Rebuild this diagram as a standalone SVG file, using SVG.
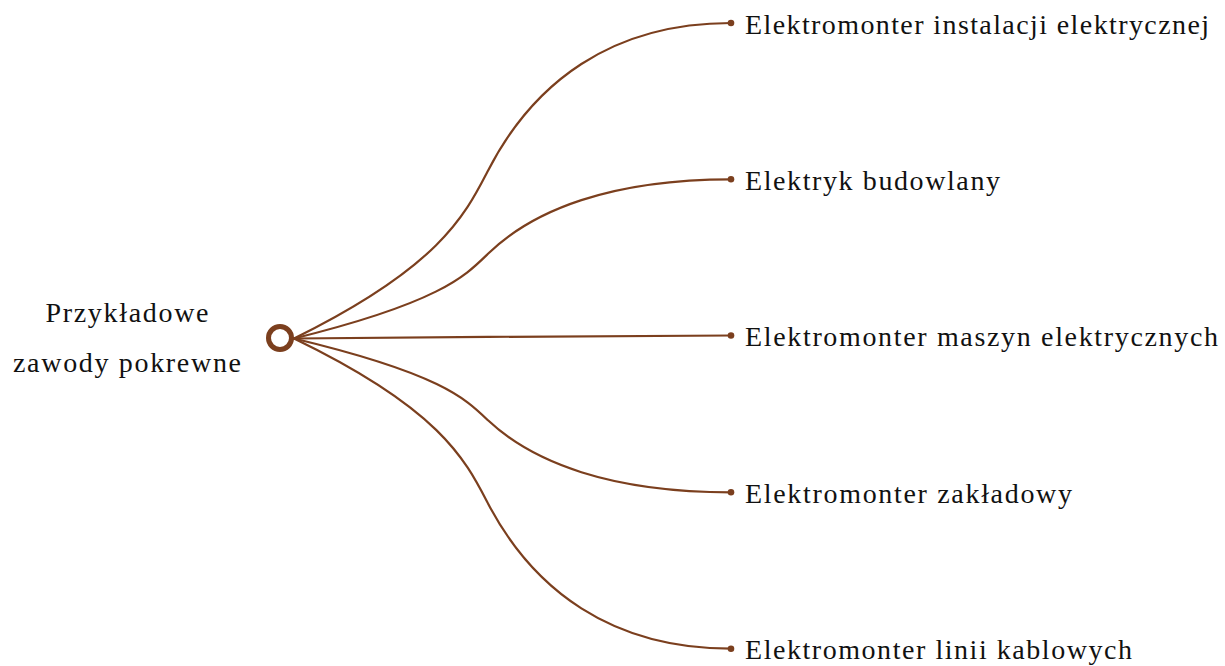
<svg xmlns="http://www.w3.org/2000/svg" width="1225" height="666" viewBox="0 0 1225 666">
<style>
.link{fill:none;stroke:#7b3f1e;stroke-width:2.2;stroke-linecap:round}
.dot{fill:#7b3f1e}
.lbl{font-family:"Liberation Serif","Times New Roman",serif;font-size:28px;fill:#111}
.root{fill:#fff;stroke:#7b3f1e;stroke-width:5}
</style>
<rect width="1225" height="666" fill="#fff"/>
<g id="connectors">
<path class="link" d="M294,338.5 C440,266.5 465,215 488,170.7 C533,83 611,23 731,23"/>
<path class="link" d="M294,338.5 C440,302.3 465,276.2 488,253.8 C533,209.9 611,179.3 731,179.3"/>
<path class="link" d="M294,338.5 C440,337.8 465,337.3 488,336.9 C533,336.1 611,335.5 731,335.5"/>
<path class="link" d="M294,338.5 C440,373.6 465,398.2 488,420.3 C533,462.7 611,492.3 731,492.3"/>
<path class="link" d="M294,338.5 C440,409.1 465,459.2 488,503.5 C533,589.6 611,648.7 731,648.7"/>
</g>
<g id="root">
<circle class="root" cx="280" cy="338" r="11.5"/>
<text class="lbl" x="127" y="322.3" text-anchor="middle" textLength="163" lengthAdjust="spacing">Przykładowe</text>
<text class="lbl" x="127" y="372.3" text-anchor="middle" textLength="228" lengthAdjust="spacing">zawody pokrewne</text>
</g>
<g id="n1">
<circle class="dot" cx="731" cy="23" r="3.3"/>
<text class="lbl" x="745" y="33.7" textLength="464" lengthAdjust="spacing">Elektromonter instalacji elektrycznej</text>
</g>
<g id="n2">
<circle class="dot" cx="731" cy="179.3" r="3.3"/>
<text class="lbl" x="745" y="190" textLength="255" lengthAdjust="spacing">Elektryk budowlany</text>
</g>
<g id="n3">
<circle class="dot" cx="731" cy="335.5" r="3.3"/>
<text class="lbl" x="745" y="346.2" textLength="473" lengthAdjust="spacing">Elektromonter maszyn elektrycznych</text>
</g>
<g id="n4">
<circle class="dot" cx="731" cy="492.3" r="3.3"/>
<text class="lbl" x="745" y="503" textLength="327" lengthAdjust="spacing">Elektromonter zakładowy</text>
</g>
<g id="n5">
<circle class="dot" cx="731" cy="648.7" r="3.3"/>
<text class="lbl" x="745" y="659.4" textLength="387" lengthAdjust="spacing">Elektromonter linii kablowych</text>
</g>
</svg>
